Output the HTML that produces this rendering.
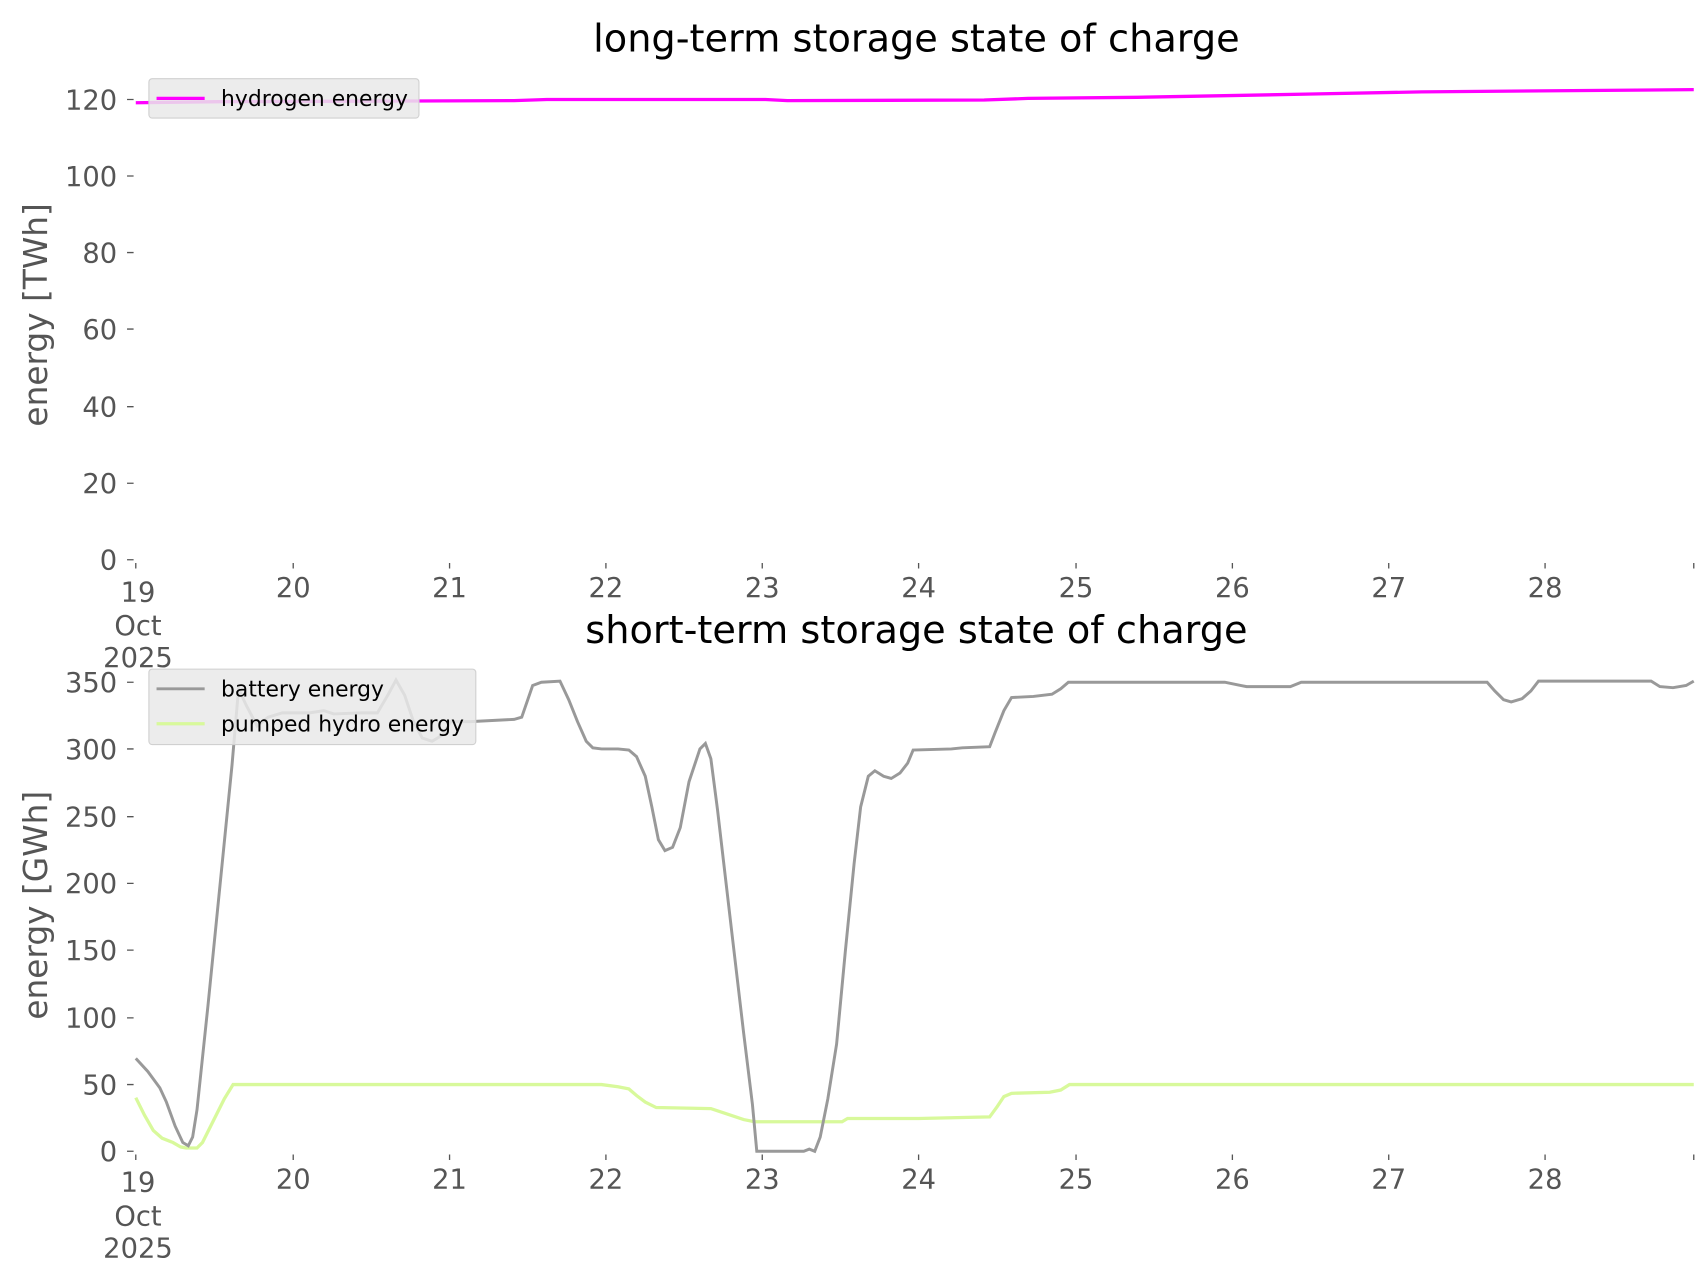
<!DOCTYPE html>
<html><head><meta charset="utf-8"><style>html,body{margin:0;padding:0;background:#fff}svg{display:block}</style></head><body>
<svg width="1706" height="1277" viewBox="0 0 1560 1168" xmlns="http://www.w3.org/2000/svg" font-family="DejaVu Sans, Liberation Sans, sans-serif">
<rect width="1560" height="1168" fill="#fff"/>
<g font-size="35" text-anchor="middle" fill="#000">
<text x="838" y="47">long-term storage state of charge</text>
<text x="838" y="588">short-term storage state of charge</text>
</g>
<g font-size="30" fill="#555" text-anchor="middle">
<text transform="translate(43,288) rotate(-90)">energy [TWh]</text>
<text transform="translate(43,828) rotate(-90)">energy [GWh]</text>
</g>
<g font-size="25" fill="#555" text-anchor="end">
<text x="107" y="521">0</text><text x="107" y="451">20</text><text x="107" y="381">40</text><text x="107" y="310">60</text><text x="107" y="240">80</text><text x="107" y="170">100</text><text x="107" y="100">120</text>
<text x="107" y="1062">0</text><text x="107" y="1001">50</text><text x="107" y="940">100</text><text x="107" y="878">150</text><text x="107" y="817">200</text><text x="107" y="756">250</text><text x="107" y="694">300</text><text x="107" y="633">350</text>
</g>
<g stroke="#555" stroke-width="1.2">
<path d="M116 512h6M116 442h6M116 372h6M116 301h6M116 231h6M116 161h6M116 91h6"/>
<path d="M116 1053h6M116 992h6M116 931h6M116 869h6M116 808h6M116 747h6M116 685h6M116 624h6"/>
<path d="M124 515v5M268 515v5M411 515v5M554 515v5M697 515v5M840 515v5M984 515v5M1127 515v5M1270 515v5M1413 515v5M1549 515v5"/>
<path d="M124 1056v5M268 1056v5M411 1056v5M554 1056v5M697 1056v5M840 1056v5M984 1056v5M1127 1056v5M1270 1056v5M1413 1056v5M1549 1056v5"/>
</g>
<g font-size="25" fill="#555" text-anchor="middle">
<text x="126" y="550">19</text><text x="126" y="581">Oct</text><text x="126" y="610">2025</text>
<text x="268" y="546">20</text><text x="411" y="546">21</text><text x="554" y="546">22</text><text x="697" y="546">23</text><text x="840" y="546">24</text><text x="984" y="546">25</text><text x="1127" y="546">26</text><text x="1270" y="546">27</text><text x="1413" y="546">28</text>
<text x="126" y="1090">19</text><text x="126" y="1121">Oct</text><text x="126" y="1150">2025</text>
<text x="268" y="1087">20</text><text x="411" y="1087">21</text><text x="554" y="1087">22</text><text x="697" y="1087">23</text><text x="840" y="1087">24</text><text x="984" y="1087">25</text><text x="1127" y="1087">26</text><text x="1270" y="1087">27</text><text x="1413" y="1087">28</text>
</g>
<polyline fill="none" stroke="#ff00ff" stroke-width="3" points="124,94 200,93 470,92 500,91 700,91 720,92 900,91.5 940,90 1040,89 1200,86 1300,84 1549,82"/>
<polyline fill="none" stroke="#d8f99b" stroke-width="3" points="124,1004 132,1020 140,1034 148,1041 158,1045 165,1049 170,1050 180,1050 185,1045 195,1025 205,1005 213,992 550,992 565,994 575,996 582,1002 590,1008 600,1013 650,1014 665,1019 680,1024 690,1026 770,1026 775,1023 840,1023 905,1021.6 912,1012 918,1003 925,1000 960,999 970,997 978,992 1549,992"/>
<polyline fill="none" stroke="#999" stroke-width="2.7" points="124,968 135,980 146,995 152,1008 160,1030 167,1045 172,1048 176,1040 180,1015 190,920 200,820 212,700 218,630 225,645 235,664 245,656 258,652 283,652 296,650 305,653 330,652 345,652 355,635 362,622 370,636 378,660 386,675 395,678 405,672 412,660 430,660 470,658 477,656 487,627 495,624 512,623 520,640 528,660 536,678 542,684 550,685 565,685 575,686 582,692 590,710 596,738 602,768 608,778 615,775 622,757 630,715 640,685 645,680 650,694 656,740 663,800 670,860 680,945 688,1010 692,1053 735,1053 740,1051 745,1053 750,1040 757,1005 765,955 773,870 781,790 787,738 794,710 800,705 808,710 815,712 823,707 830,698 835,686 870,685 880,684 905,683 910,670 918,650 925,638 945,637 962,635 970,630 977,624 1120,624 1135,627 1140,628 1180,628 1190,624 1360,624 1367,632 1375,640 1382,642 1392,639 1400,632 1407,623 1510,623 1518,628 1530,629 1542,627 1549,623"/>
<rect x="136" y="72" width="247" height="36" rx="3" fill="#e9e9e9" fill-opacity="0.85" stroke="#d0d0d0"/>
<line x1="143" y1="90" x2="187" y2="90" stroke="#ff00ff" stroke-width="3"/>
<text x="202" y="97" font-size="20" fill="#000">hydrogen energy</text>
<rect x="136" y="612" width="299" height="69" rx="3" fill="#e9e9e9" fill-opacity="0.85" stroke="#d0d0d0"/>
<line x1="143" y1="630" x2="187" y2="630" stroke="#999" stroke-width="2.7"/>
<text x="202" y="637" font-size="20" fill="#000">battery energy</text>
<line x1="143" y1="662" x2="187" y2="662" stroke="#d8f99b" stroke-width="3"/>
<text x="202" y="669" font-size="20" fill="#000">pumped hydro energy</text>
</svg>
</body></html>
